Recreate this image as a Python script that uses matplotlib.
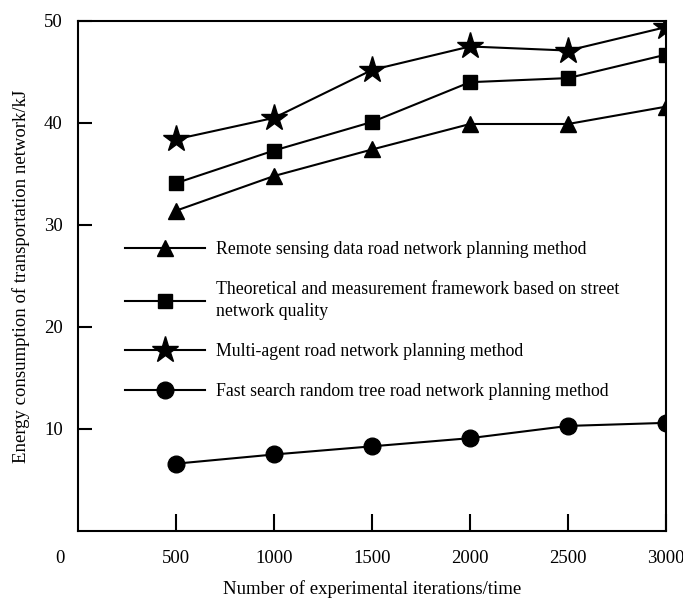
import numpy as np
import matplotlib
matplotlib.use("Agg")
import matplotlib.pyplot as plt

plt.rcParams['font.family'] = ['Liberation Serif', 'DejaVu Serif']
plt.rcParams['font.size'] = 13.5

iterations = [500, 1000, 1500, 2000, 2500, 3000]

remote_sensing = [31.4, 34.8, 37.4, 39.9, 39.9, 41.6]
street_quality = [34.1, 37.3, 40.1, 44.0, 44.4, 46.7]
multi_agent = [38.4, 40.5, 45.2, 47.5, 47.1, 49.4]
fast_search = [6.6, 7.5, 8.3, 9.1, 10.3, 10.6]

labels = ["Remote sensing data road network planning method",
          "Theoretical and measurement framework based on street\nnetwork quality",
          "Multi-agent road network planning method",
          "Fast search random tree road network planning method"]

xticks = [500, 1000, 1500, 2000, 2500, 3000]
yticks = [10, 20, 30, 40, 50]

fig = plt.figure(figsize=(6.83, 6.01), dpi=100)
ax = fig.add_axes([0.1142, 0.1165, 0.861, 0.8486])

ax.plot(iterations, remote_sensing, color='black', lw=1.5, marker='^', ms=11, label=labels[0])
ax.plot(iterations, street_quality, color='black', lw=1.5, marker='s', ms=10, label=labels[1])
ax.plot(iterations, multi_agent, color='black', lw=1.5, marker='*', ms=20, label=labels[2])
ax.plot(iterations, fast_search, color='black', lw=1.5, marker='o', ms=12, label=labels[3])

ax.set_xlim(0, 3000)
ax.set_ylim(0, 50)
ax.set_xticks(xticks)
ax.set_yticks(yticks)
ax.tick_params(axis='x', direction='in', length=12, width=1.5, pad=14)
ax.tick_params(axis='y', direction='in', length=10, width=1.5, pad=11)
for s in ax.spines.values():
    s.set_linewidth(1.5)

# origin label sits apart from the axis corner
ax.annotate('0', xy=(0, 0), xytext=(-13, -14), textcoords='offset points',
            ha='center', va='top', annotation_clip=False)

ax.set_xlabel("Number of experimental iterations/time", labelpad=9)
ax.set_ylabel("Energy consumption of transportation network/kJ", labelpad=10)

leg = ax.legend(loc='upper left', bbox_to_anchor=(0.08, 0.569), frameon=False,
                borderpad=0, borderaxespad=0, handlelength=4.5, handletextpad=0.6,
                labelspacing=1.3, fontsize=12.8)
for t in leg.get_texts():
    t.set_linespacing(1.4)

fig.savefig("out.png", dpi=100)
